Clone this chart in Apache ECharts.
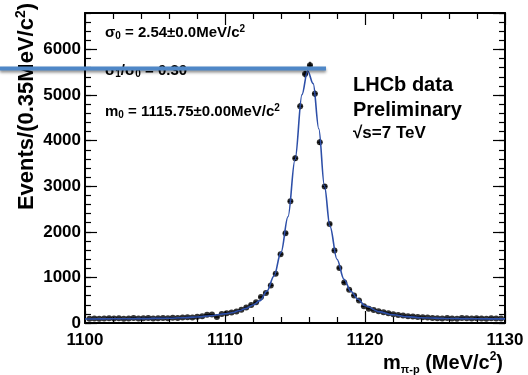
<!DOCTYPE html>
<html>
<head>
<meta charset="utf-8">
<script src="https://cdn.jsdelivr.net/npm/echarts@6/dist/echarts.min.js"></script>
<style>
  html, body { margin: 0; padding: 0; background: #fff; }
  #chart { width: 528px; height: 375px; }
</style>
</head>
<body>
<div id="chart"></div>
<script>
// histogram bin centres (MeV/c^2), bin width 0.35
const binCenters = [
  1100.32, 1100.67, 1101.02, 1101.37, 1101.72, 1102.07, 1102.42, 1102.77, 1103.12, 1103.47,
  1103.82, 1104.17, 1104.52, 1104.87, 1105.22, 1105.57, 1105.92, 1106.27, 1106.62, 1106.97,
  1107.32, 1107.67, 1108.02, 1108.37, 1108.72, 1109.07, 1109.42, 1109.77, 1110.12, 1110.47,
  1110.82, 1111.17, 1111.52, 1111.87, 1112.22, 1112.57, 1112.92, 1113.27, 1113.62, 1113.97,
  1114.32, 1114.67, 1115.02, 1115.37, 1115.72, 1116.07, 1116.42, 1116.77, 1117.12, 1117.47,
  1117.82, 1118.17, 1118.52, 1118.87, 1119.22, 1119.57, 1119.92, 1120.27, 1120.62, 1120.97,
  1121.32, 1121.67, 1122.02, 1122.37, 1122.72, 1123.07, 1123.42, 1123.77, 1124.12, 1124.47,
  1124.82, 1125.17, 1125.52, 1125.87, 1126.22, 1126.57, 1126.92, 1127.27, 1127.62, 1127.97,
  1128.32, 1128.67, 1129.02, 1129.37, 1129.72
];
const binWidth = 0.35;

// events per bin
const counts = [
  95, 100, 92, 98, 105, 96, 102, 94, 100, 108,
  99, 103, 110, 97, 106, 112, 104, 115, 110, 120,
  125, 118, 135, 150, 180, 185, 130, 195, 215, 230,
  255, 290, 340, 395, 454, 570, 660, 825, 1080, 1510,
  1970, 2670, 3615, 4755, 5460, 5655, 5030, 3965, 2995, 2170,
  1590, 1205, 890, 730, 605, 495, 365, 315, 285, 260,
  235, 215, 190, 175, 165, 150, 145, 130, 125, 118,
  112, 105, 98, 108, 100, 95, 110, 102, 96, 105,
  99, 93, 104, 100, 97
];

// fitted curve
const fitMass = [
  1100, 1102, 1104, 1106, 1107, 1108, 1109, 1110, 1110.5, 1111,
  1111.5, 1112, 1112.5, 1113, 1113.5, 1114, 1114.5, 1115, 1115.5, 1115.9,
  1116.3, 1116.7, 1117.1, 1117.5, 1118, 1118.5, 1119, 1119.5, 1120, 1121,
  1122, 1123, 1124, 1126, 1128, 1130
];
const fitCounts = [
  88, 92, 97, 105, 116, 132, 158, 200, 226, 268,
  320, 395, 490, 700, 1030, 1550, 2330, 3580, 5010, 5534,
  5250, 4260, 3010, 2120, 1400, 960, 690, 520, 380, 250,
  180, 140, 116, 98, 92, 90
];

const xRange = [1100, 1130];
const yRange = [0, 6800];

const FONT = 'Liberation Sans, Arial, Helvetica, sans-serif';
const chart = echarts.init(document.getElementById('chart'), null, { renderer: 'canvas' });

const tickLine = { color: '#000', width: 1.2 };
const plain = v => String(v);

function xAxisOf(pos, labels) {
  return {
    type: 'value', position: pos, min: xRange[0], max: xRange[1], interval: 10,
    axisLine: { show: true, onZero: false, lineStyle: { color: '#000', width: 2 } },
    axisTick: { show: true, inside: true, length: 12, lineStyle: tickLine },
    minorTick: { show: true, splitNumber: 5, length: 6, lineStyle: tickLine },
    splitLine: { show: false },
    axisLabel: labels ? {
      show: true, margin: 9, color: '#000', fontSize: 17, fontWeight: 'bold', fontFamily: FONT,
      formatter: plain
    } : { show: false }
  };
}
function yAxisOf(pos, interval, len, labels) {
  return {
    type: 'value', position: pos, min: yRange[0], max: yRange[1], interval: interval,
    axisLine: { show: len > 6, onZero: false, lineStyle: { color: '#000', width: 2 } },
    axisTick: { show: true, inside: true, length: len, lineStyle: tickLine },
    splitLine: { show: false },
    axisLabel: labels ? {
      show: true, margin: 4, color: '#000', fontSize: 17, fontWeight: 'bold', fontFamily: FONT,
      showMaxLabel: false, formatter: plain
    } : { show: false }
  };
}

const xMain = xAxisOf('bottom', true);
xMain.name = '{a|m}{sub|π-p}{a| (MeV/c}{sup|2}{a|)}';
xMain.nameLocation = 'end';
xMain.nameGap = -2;
xMain.nameTextStyle = {
  align: 'right', verticalAlign: 'top', padding: [28, 0, 0, 0],
  rich: {
    a: { fontSize: 20, fontWeight: 'bold', fontFamily: FONT, color: '#000', lineHeight: 24 },
    sub: { fontSize: 11, fontWeight: 'bold', fontFamily: FONT, color: '#000', verticalAlign: 'bottom', lineHeight: 24 },
    sup: { fontSize: 12, fontWeight: 'bold', fontFamily: FONT, color: '#000', verticalAlign: 'top', lineHeight: 24 }
  }
};

const txt = (size) => ({ fontSize: size, fontWeight: 'bold', fontFamily: FONT, fill: '#000' });
const annotRich = {
  a: txt(15),
  sub: Object.assign(txt(10), { padding: [7, 0, 0, 0] }),
  sup: Object.assign(txt(10), { padding: [0, 0, 7, 0] })
};
const titleRich = {
  a: Object.assign(txt(22), { lineHeight: 26 }),
  sup: Object.assign(txt(14), { verticalAlign: 'top', lineHeight: 26 })
};

chart.setOption({
  animation: false,
  backgroundColor: '#fff',
  grid: { left: 85, right: 23, top: 13, bottom: 52, containLabel: false, outerBoundsMode: 'none' },
  xAxis: [xMain, xAxisOf('top', false)],
  yAxis: [
    yAxisOf('left', 1000, 12, true),
    yAxisOf('left', 200, 6, false),
    yAxisOf('right', 1000, 12, false),
    yAxisOf('right', 200, 6, false)
  ],
  series: [
    {
      name: 'errors', type: 'custom', xAxisIndex: 0, yAxisIndex: 0, z: 3,
      data: binCenters.map((m, i) => [m, counts[i]]),
      encode: { x: 0, y: 1 },
      renderItem: function (params, api) {
        const m = api.value(0), n = api.value(1), e = Math.sqrt(n);
        const l = api.coord([m - binWidth / 2, n]), r = api.coord([m + binWidth / 2, n]);
        const t = api.coord([m, n + e]), b = api.coord([m, n - e]);
        return {
          type: 'group', children: [
            { type: 'line', shape: { x1: l[0], y1: l[1], x2: r[0], y2: r[1] }, style: { stroke: '#000', lineWidth: 1.3 } },
            { type: 'line', shape: { x1: t[0], y1: t[1], x2: b[0], y2: b[1] }, style: { stroke: '#000', lineWidth: 1.3 } }
          ]
        };
      }
    },
    {
      name: 'data', type: 'scatter', xAxisIndex: 0, yAxisIndex: 0, z: 4,
      symbol: 'circle', symbolSize: 6,
      itemStyle: { color: '#000' },
      data: binCenters.map((m, i) => [m, counts[i]])
    },
    {
      name: 'fit', type: 'line', xAxisIndex: 0, yAxisIndex: 0, z: 5,
      smooth: 0.35, smoothMonotone: 'x', showSymbol: false, clip: true,
      lineStyle: { color: '#2d4fa8', width: 1.6 },
      data: fitMass.map((m, i) => [m, fitCounts[i]])
    }
  ],
  graphic: [
    {
      type: 'text', x: 40, y: 3, rotation: Math.PI / 2,
      style: { text: '{a|Events/(0.35MeV/c}{sup|2}{a|)}', rich: titleRich, align: 'right', verticalAlign: 'bottom' }
    },
    { type: 'text', x: 105, y: 33, style: { text: '{a|σ}{sub|0}{a| = 2.54±0.0MeV/c}{sup|2}', rich: annotRich, verticalAlign: 'middle' } },
    { type: 'text', x: 105, y: 71, style: { text: '{a|σ}{sub|1}{a|/σ}{sub|0}{a| = 0.30}', rich: annotRich, verticalAlign: 'middle' } },
    { type: 'text', x: 105, y: 112, style: { text: '{a|m}{sub|0}{a| = 1115.75±0.00MeV/c}{sup|2}', rich: annotRich, verticalAlign: 'middle' } },
    { type: 'text', x: 353, y: 85, style: { text: 'LHCb data', fontSize: 20, fontWeight: 'bold', fontFamily: FONT, fill: '#000', verticalAlign: 'middle' } },
    { type: 'text', x: 353, y: 110, style: { text: 'Preliminary', fontSize: 20, fontWeight: 'bold', fontFamily: FONT, fill: '#000', verticalAlign: 'middle' } },
    { type: 'text', x: 353, y: 133, style: { text: '√s=7 TeV', fontSize: 17, fontWeight: 'bold', fontFamily: FONT, fill: '#000', verticalAlign: 'middle' } },
    {
      type: 'line', z: 100,
      shape: { x1: 0, y1: 68.5, x2: 326, y2: 68.5 },
      style: { stroke: '#4f87c7', lineWidth: 4, shadowBlur: 3, shadowColor: 'rgba(0,0,0,0.45)', shadowOffsetY: 2 }
    }
  ]
});
</script>
</body>
</html>
